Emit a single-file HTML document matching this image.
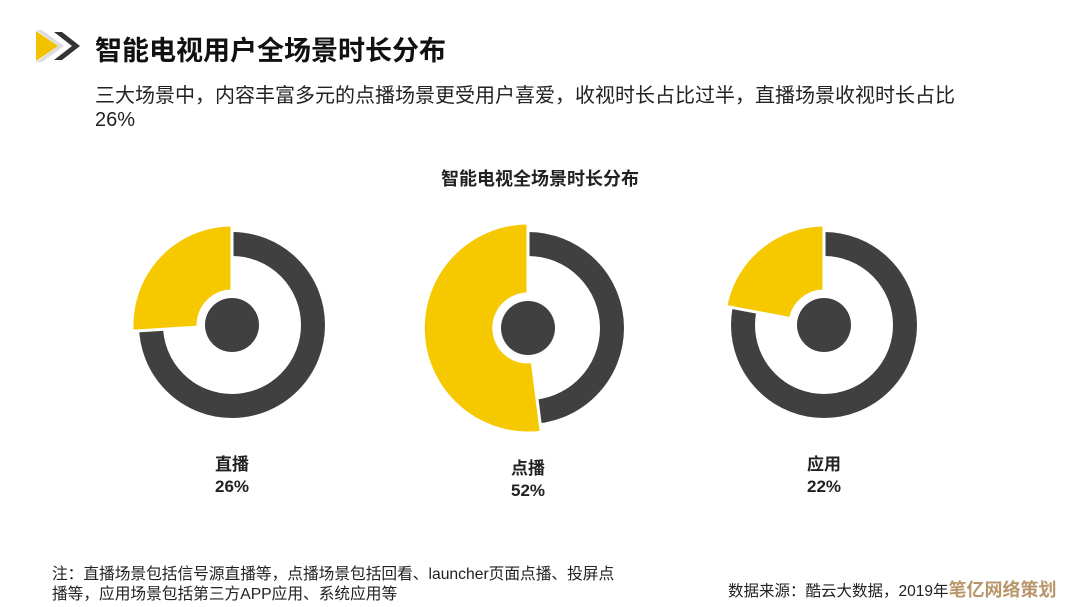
<!DOCTYPE html>
<html><head><meta charset="utf-8"><style>
body{margin:0;width:1080px;height:607px;background:#fff;overflow:hidden;position:relative;font-family:"Liberation Sans","Noto Sans CJK SC",sans-serif;color:#222}
.t{position:absolute;white-space:nowrap}
</style></head><body>
<svg width="1080" height="607" style="position:absolute;left:0;top:0">
<polygon points="36,30 42,30 64,46 42,62 36,62 58,46" fill="#ddd"/>
<polygon points="36,31 58,46 36,61" fill="#f2c200"/>
<polygon points="54,32 62,32 80,46 62,60 54,60 72,46" fill="#333"/>
<g>
<circle cx="232" cy="325" r="81" fill="none" stroke="#404040" stroke-width="24"/>
<circle cx="232" cy="325" r="27" fill="#404040"/>
<path d="M232,225 A100,100 0 0 0 132.2,331.3 L198.1,327.1 A34,34 0 0 1 232,291 Z" fill="#f5c800" stroke="#fff" stroke-width="3"/>
</g>
<g>
<circle cx="528" cy="328" r="84" fill="none" stroke="#404040" stroke-width="24"/>
<circle cx="528" cy="328" r="27" fill="#404040"/>
<path d="M528,223 A105,105 0 1 0 541.2,432.2 L532.3,361.7 A34,34 0 1 1 528,294 Z" fill="#f5c800" stroke="#fff" stroke-width="3"/>
</g>
<g>
<circle cx="824" cy="325" r="81" fill="none" stroke="#404040" stroke-width="24"/>
<circle cx="824" cy="325" r="27" fill="#404040"/>
<path d="M824,225 A100,100 0 0 0 725.8,306.3 L790.6,318.6 A34,34 0 0 1 824,291 Z" fill="#f5c800" stroke="#fff" stroke-width="3"/>
</g>
</svg>
<div class="t" style="left:95px;top:29px;font-size:27px;font-weight:bold;color:#111">智能电视用户全场景时长分布</div>
<div class="t" style="left:95px;top:84px;font-size:20px;line-height:24px;color:#222">三大场景中，内容丰富多元的点播场景更受用户喜爱，收视时长占比过半，直播场景收视时长占比<br>26%</div>
<div class="t" style="left:0;width:1080px;text-align:center;top:165px;font-size:18px;font-weight:bold">智能电视全场景时长分布</div>
<div class="t" style="left:182px;width:100px;text-align:center;top:454px;font-size:17px;font-weight:bold;line-height:22px">直播<br>26%</div>
<div class="t" style="left:478px;width:100px;text-align:center;top:458px;font-size:17px;font-weight:bold;line-height:22px">点播<br>52%</div>
<div class="t" style="left:774px;width:100px;text-align:center;top:454px;font-size:17px;font-weight:bold;line-height:22px">应用<br>22%</div>
<div class="t" style="left:52px;top:565px;font-size:15.7px;line-height:20px;color:#222">注：直播场景包括信号源直播等，点播场景包括回看、launcher页面点播、投屏点<br>播等，应用场景包括第三方APP应用、系统应用等</div>
<div class="t" style="left:728px;top:576px;font-size:15.5px;color:#222">数据来源：酷云大数据，2019年<span style="color:#b8956a;font-weight:bold;font-size:18px">笔亿网络策划</span></div>
</body></html>
